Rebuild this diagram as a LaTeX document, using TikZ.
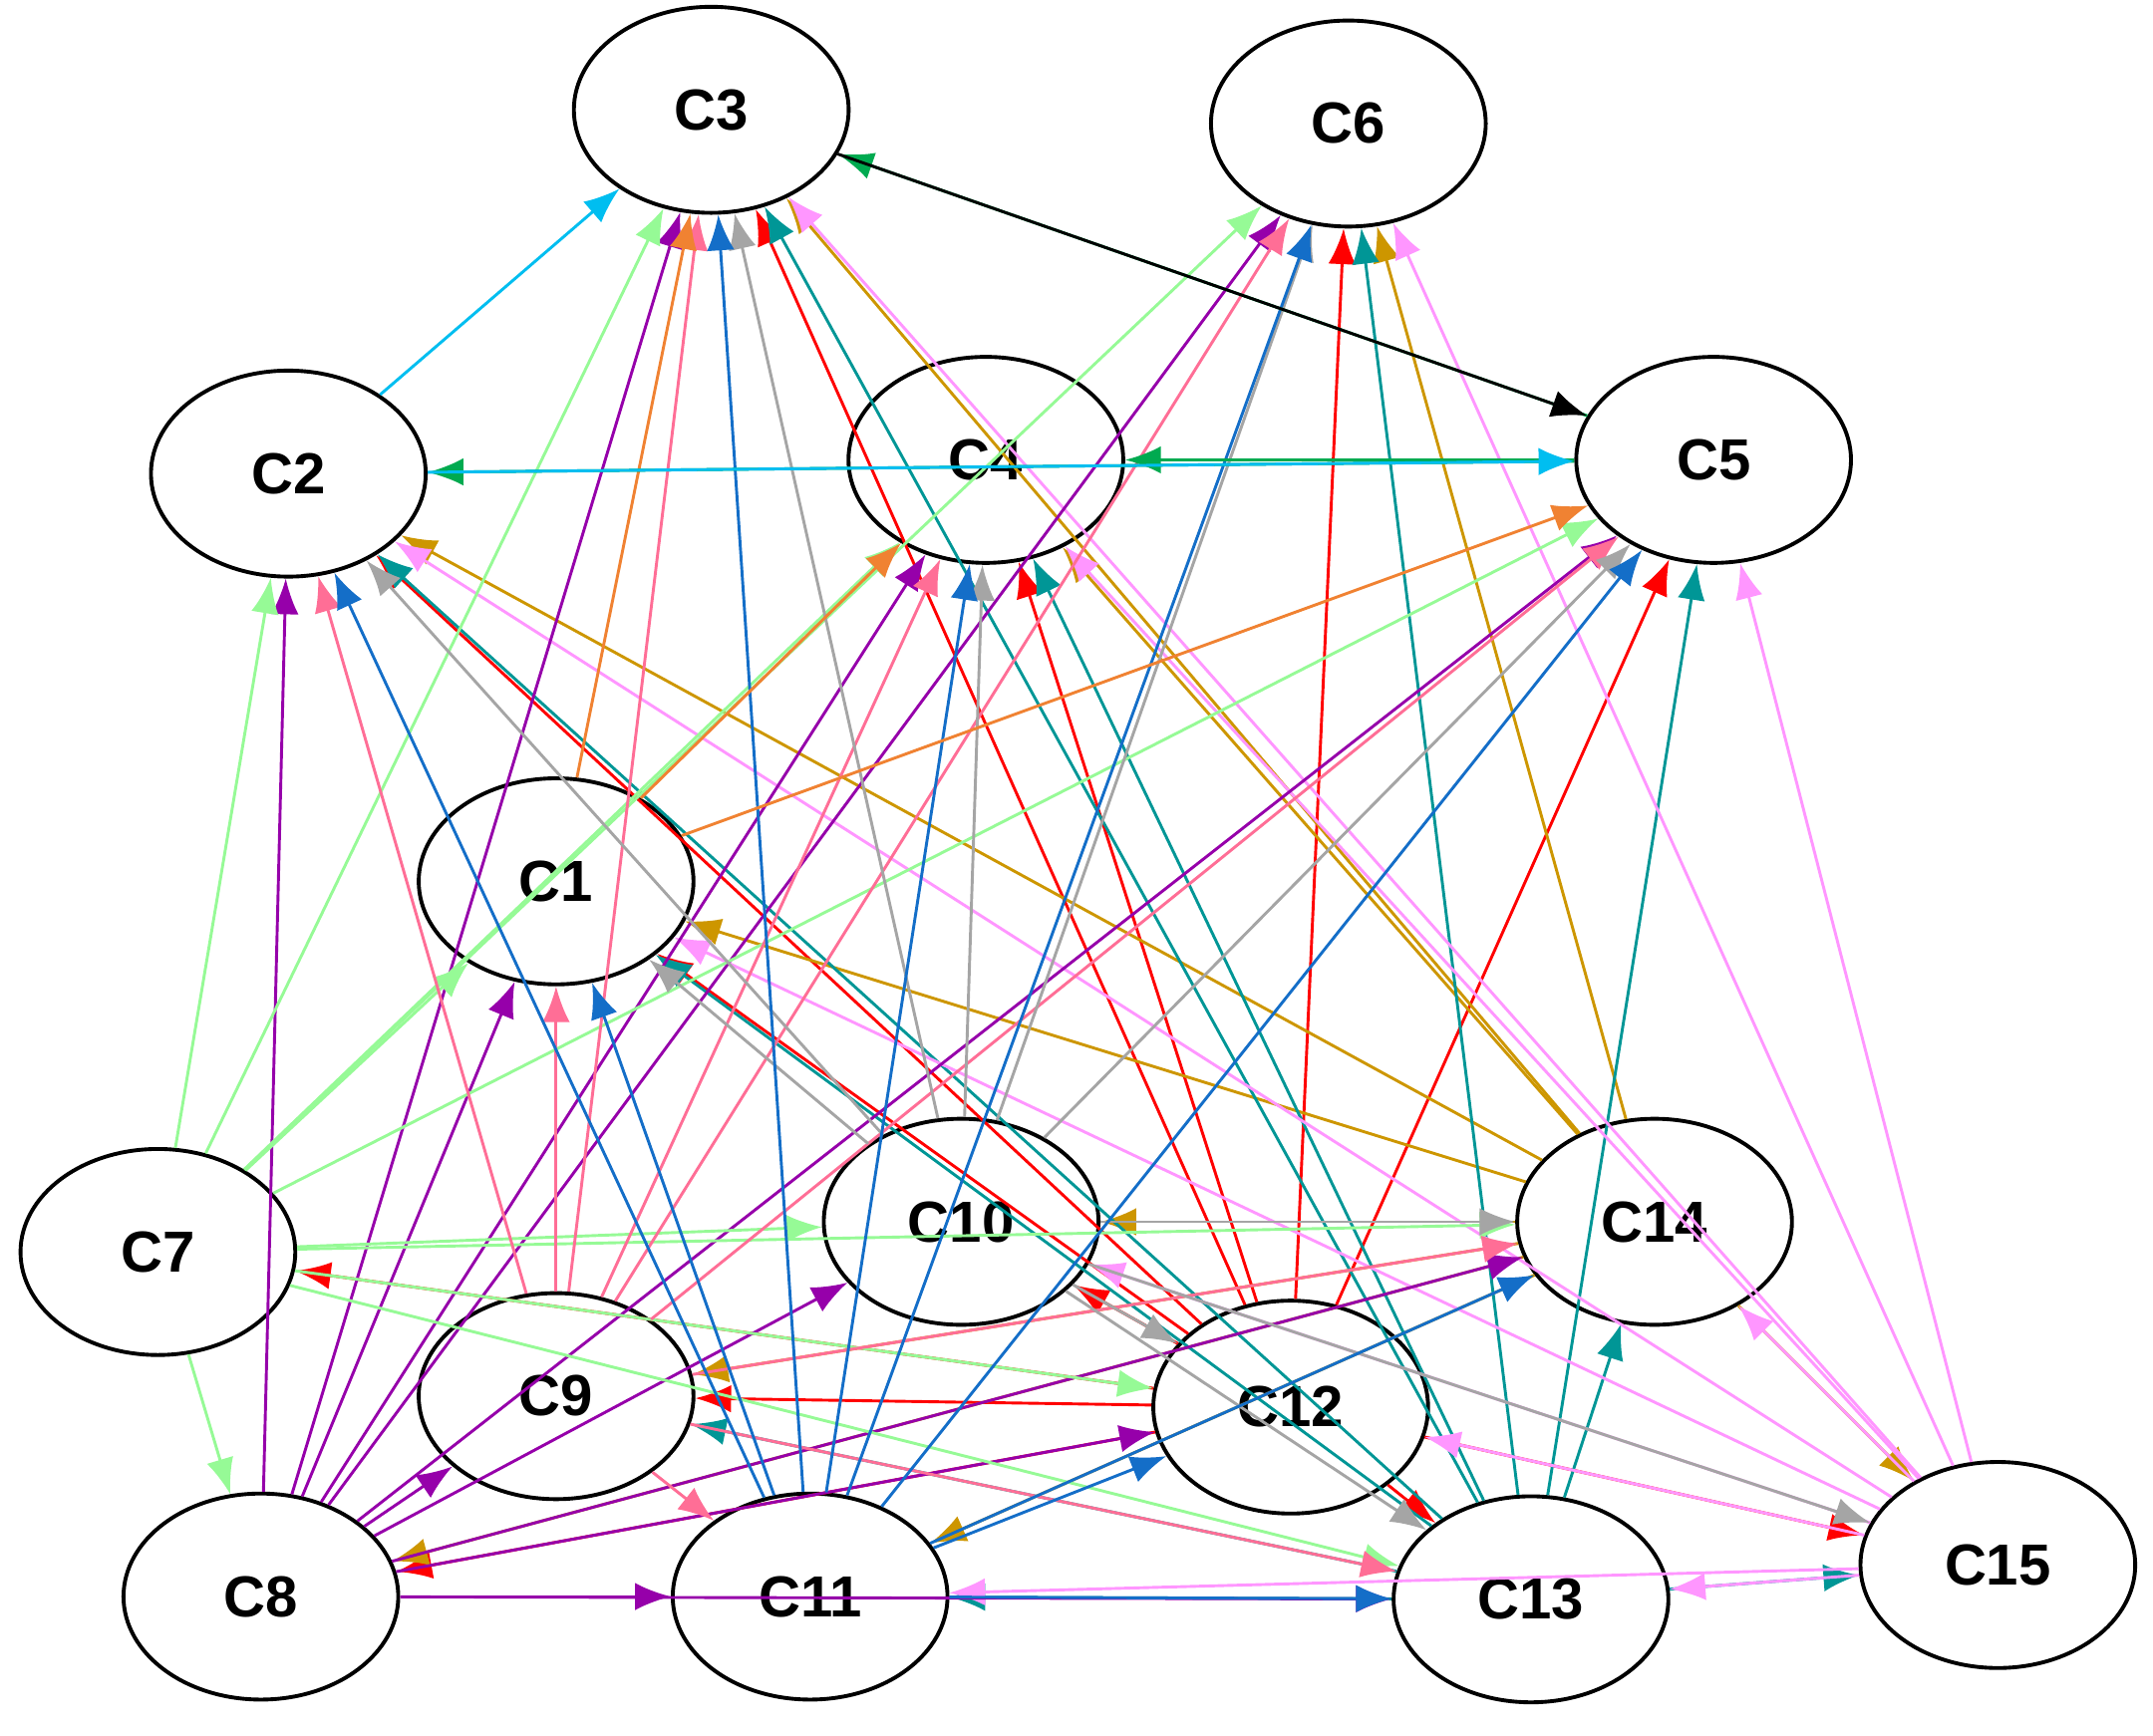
\documentclass[tikz,border=0pt]{standalone}
\usepackage{fontspec}
\setmainfont{Liberation Sans}
\usetikzlibrary{arrows.meta,shapes.geometric}
\definecolor{cred}{RGB}{255,0,0}
\definecolor{cgold}{RGB}{205,150,0}
\definecolor{cteal}{RGB}{0,150,150}
\definecolor{cviol}{RGB}{255,150,255}
\definecolor{cpurp}{RGB}{150,0,170}
\definecolor{clgreen}{RGB}{150,250,150}
\definecolor{csalm}{RGB}{255,110,150}
\definecolor{cgray}{RGB}{165,165,165}
\definecolor{cblue}{RGB}{20,110,200}
\definecolor{corange}{RGB}{240,130,50}
\definecolor{cgreen}{RGB}{0,170,80}
\definecolor{ccyan}{RGB}{0,190,240}
\begin{document}
\begin{tikzpicture}[x=0.01cm,y=-0.01cm,
  cl/.style={draw=black,ellipse,line width=0.8pt,minimum width=2cm,minimum height=1.5cm,font=\fontsize{12}{14}\selectfont\bfseries,fill=none},
  e/.style={-{Latex[length=2.6mm,width=2mm]},line width=0.6pt}]
\useasboundingbox (0,0) rectangle (1568,1264);
\node[cl] (C3) at (518,80) {C3};
\node[cl] (C6) at (982,90) {C6};
\node[cl] (C2) at (210,345) {C2};
\node[cl] (C4) at (718,335) {C4};
\node[cl] (C5) at (1248,335) {C5};
\node[cl] (C1) at (405,642) {C1};
\node[cl] (C7) at (115,912) {C7};
\node[cl] (C10) at (700,890) {C10};
\node[cl] (C14) at (1205,890) {C14};
\node[cl] (C9) at (405,1017) {C9};
\node[cl,minimum height=1.55cm] (C12) at (940,1025) {C12};
\node[cl] (C8) at (190,1163) {C8};
\node[cl] (C11) at (590,1163) {C11};
\node[cl] (C13) at (1115,1165) {C13};
\node[cl] (C15) at (1455,1140) {C15};
\foreach \t in {C3,C4,C6,C5,C2,C1,C8,C13,C15,C10,C9,C7} \draw[e,cred] (C12) -- (\t);
\foreach \t in {C3,C4,C2,C1,C10,C9,C11,C8,C15,C6} \draw[e,cgold] (C14) -- (\t);
\foreach \t in {C3,C4,C2,C1,C9,C6,C5,C14,C15,C11} \draw[e,cteal] (C13) -- (\t);
\foreach \t in {C3,C4,C2,C1,C6,C5,C14,C13,C11,C10,C12} \draw[e,cviol] (C15) -- (\t);
\foreach \t in {C3,C4,C6,C5,C2,C1,C9,C10,C11,C13,C14,C12} \draw[e,cpurp] (C8) -- (\t);
\foreach \t in {C3,C4,C6,C5,C2,C1,C8,C10,C13,C12,C14} \draw[e,clgreen] (C7) -- (\t);
\foreach \t in {C3,C4,C6,C5,C2,C1,C14,C13,C11} \draw[e,csalm] (C9) -- (\t);
\foreach \t in {C3,C6,C4,C5,C2,C1,C12,C13,C15,C14} \draw[e,cgray] (C10) -- (\t);
\foreach \t in {C3,C6,C4,C5,C2,C1,C14,C12,C13} \draw[e,cblue] (C11) -- (\t);
\foreach \t in {C3,C4,C5} \draw[e,corange] (C1) -- (\t);
\foreach \t in {C2,C3,C4} \draw[e,cgreen] (C5) -- (\t);
\draw[e,ccyan] (C2) -- (C3);
\draw[e,ccyan] (C2) -- (C5);
\draw[e,black] (C3) -- (C5);
\end{tikzpicture}
\end{document}
